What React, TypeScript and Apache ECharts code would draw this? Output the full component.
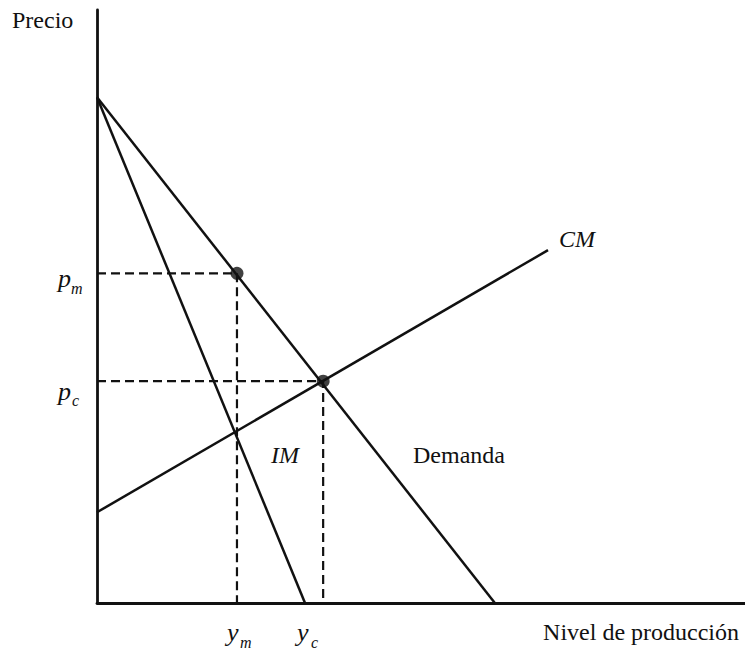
import React, { useEffect, useRef } from "react";
import * as echarts from "echarts";

// Abstract units: x 0..100 (Nivel de producción), y 0..100 (Precio)
const demandLine: number[][] = [[0, 85.3], [61.4, 0]];
const imLine: number[][] = [[0, 85.3], [32.1, 0]];
const cmLine: number[][] = [[0, 15.3], [69.6, 59.5]];
const monopoly = { y: 21.6, p: 55.6 }; // (y_m, p_m)
const competitive = { y: 34.9, p: 37.4 }; // (y_c, p_c)

const INK = "#111";
const SERIF = "'Liberation Serif', 'DejaVu Serif', serif";

export default function App() {
  const ref = useRef<HTMLDivElement>(null);
  useEffect(() => {
    if (!ref.current) return;
    const chart = echarts.init(ref.current, null, { renderer: "svg" });
    const dashed = { color: INK, width: 2.2, type: [9, 5] as any };
    const solid = { color: INK, width: 2.5 };
    const txt = (text: string, x: number, y: number, size: number, italic = false, align = "left") => ({
      type: "text",
      style: {
        text,
        x,
        y,
        fill: INK,
        font: `${italic ? "italic " : ""}${size}px ${SERIF}`,
        textAlign: align,
        textVerticalAlign: "middle",
      },
    });
    chart.setOption({
      animation: false,
      grid: { left: 97, right: 0, top: 10, bottom: 46 },
      xAxis: {
        type: "value",
        min: 0,
        max: 100,
        axisLine: { show: true, lineStyle: { color: INK, width: 2.8 } },
        axisTick: { show: false },
        axisLabel: { show: false },
        splitLine: { show: false },
      },
      yAxis: {
        type: "value",
        min: 0,
        max: 100,
        axisLine: { show: true, lineStyle: { color: INK, width: 2.8 } },
        axisTick: { show: false },
        axisLabel: { show: false },
        splitLine: { show: false },
      },
      series: [
        { type: "line", data: demandLine, symbol: "none", lineStyle: solid },
        { type: "line", data: imLine, symbol: "none", lineStyle: solid },
        { type: "line", data: cmLine, symbol: "none", lineStyle: solid },
        {
          type: "line",
          data: [[0, monopoly.p], [monopoly.y, monopoly.p], [monopoly.y, 0]],
          symbol: "none",
          lineStyle: dashed,
        },
        {
          type: "line",
          data: [[0, competitive.p], [competitive.y, competitive.p], [competitive.y, 0]],
          symbol: "none",
          lineStyle: dashed,
        },
        {
          type: "scatter",
          data: [[monopoly.y, monopoly.p], [competitive.y, competitive.p]],
          symbol: "circle",
          symbolSize: 13,
          itemStyle: { color: INK },
          z: 5,
        },
      ],
      graphic: [
        txt("Precio", 12, 20, 24),
        txt("Nivel de producción", 739, 632, 24, false, "right"),
        txt("Demanda", 413, 455, 24),
        txt("CM", 559, 239, 24, true),
        txt("IM", 271, 455, 24, true),
        txt("p", 58, 278, 26, true),
        txt("m", 71, 288, 16, true),
        txt("p", 58, 391, 26, true),
        txt("c", 72, 400, 16, true),
        txt("y", 227, 632, 26, true),
        txt("m", 240, 642, 16, true),
        txt("y", 297, 632, 26, true),
        txt("c", 311, 642, 16, true),
      ],
    });
    return () => chart.dispose();
  }, []);
  return (
    <div
      ref={ref}
      style={{ position: "fixed", left: 0, top: 0, width: 745, height: 649, background: "#fff" }}
    />
  );
}
